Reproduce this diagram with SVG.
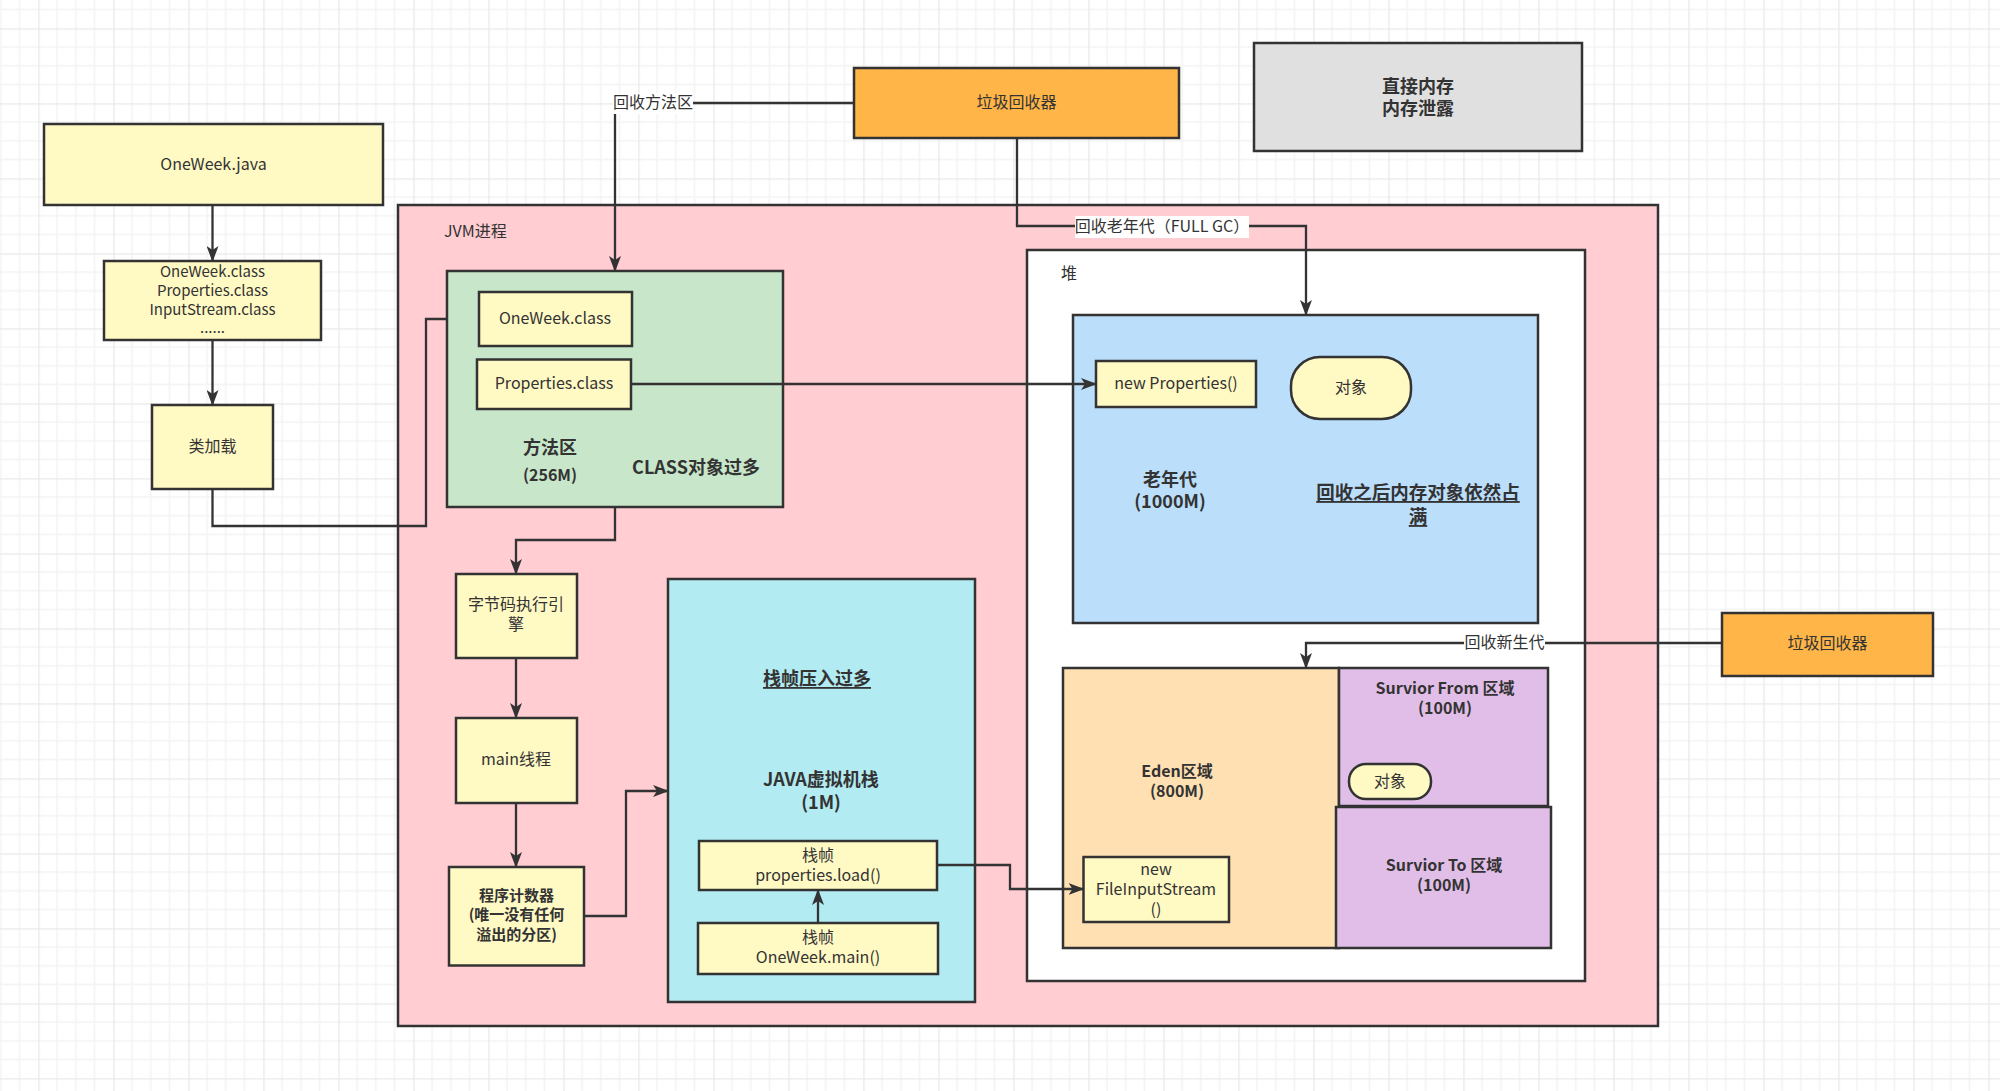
<svg xmlns="http://www.w3.org/2000/svg" width="2000" height="1091" viewBox="0 0 2000 1091">
<defs>
<pattern id="grid" patternUnits="userSpaceOnUse" x="38.3" y="28.3" width="75" height="75">
<rect width="75" height="75" fill="#ffffff"/>
<path d="M18.75,0V75M37.5,0V75M56.25,0V75M0,18.75H75M0,37.5H75M0,56.25H75" stroke="#f3f3f3" stroke-width="1.5" fill="none"/>
<path d="M0.5,0V75M0,0.5H75" stroke="#e9e9e9" stroke-width="1.6" fill="none"/>
</pattern>
<marker id="arr" markerUnits="userSpaceOnUse" markerWidth="16" markerHeight="12" viewBox="0 0 16 12" refX="15" refY="6" orient="auto">
<path d="M0,0 L16,6 L0,12 L4,6 z" fill="#333333"/>
</marker>
</defs>
<style>
text{font-family:"Noto Sans CJK SC","Noto Sans",sans-serif;fill:#333333;font-size:16px;text-anchor:middle;dominant-baseline:central;transform:translateY(-2px)}
.b{font-weight:bold}
.l{font-size:18px;font-weight:bold}
.s{font-size:15px}
.u{text-decoration:underline}
.box{stroke:#333333;stroke-width:2.5}
.y{fill:#fff9c4}
.gc{fill:#ffb547}
.edge{fill:none;stroke:#333333;stroke-width:2.3}
.lbl{fill:#ffffff}
</style>
<rect width="2000" height="1091" fill="url(#grid)"/>

<g id="oneweek-java"><rect class="box y" x="44" y="124" width="339" height="81"/><text x="213.5" y="164.5">OneWeek.java</text></g>
<g id="class-files"><rect class="box y" x="104" y="261" width="217" height="79"/>
<text class="s" x="212.5" y="272">OneWeek.class</text><text class="s" x="212.5" y="291">Properties.class</text><text class="s" x="212.5" y="310">InputStream.class</text><text class="s" x="212.5" y="328">......</text></g>
<g id="class-loader"><rect class="box y" x="152" y="405" width="121" height="84"/><text x="212.5" y="447">类加载</text></g>

<g id="jvm"><rect class="box" fill="#ffcdd2" x="398" y="205" width="1260" height="821"/><text x="444" y="231.5" style="text-anchor:start">JVM进程</text></g>

<g id="method-area"><rect class="box" fill="#c8e6c9" x="447" y="271" width="336" height="236"/>
<text class="l" x="550" y="448">方法区</text><text class="b" x="550" y="476">(256M)</text>
<text class="l" x="696" y="468">CLASS对象过多</text></g>
<g id="oneweek-class"><rect class="box y" x="479" y="292" width="153" height="54"/><text x="555" y="319">OneWeek.class</text></g>
<g id="properties-class"><rect class="box y" x="477" y="359.5" width="154" height="49.5"/><text x="554" y="384">Properties.class</text></g>

<g id="bytecode-engine"><rect class="box y" x="456" y="574" width="121" height="84"/><text x="516" y="605">字节码执行引</text><text x="516" y="625">擎</text></g>
<g id="main-thread"><rect class="box y" x="456" y="718" width="121" height="85"/><text x="516" y="760">main线程</text></g>
<g id="pc-register"><rect class="box y" x="449" y="867" width="135" height="98.5"/>
<text class="b s" x="516.5" y="896">程序计数器</text><text class="b s" x="516.5" y="915.5">(唯一没有任何</text><text class="b s" x="516.5" y="935">溢出的分区)</text></g>

<g id="java-stack"><rect class="box" fill="#b2ebf2" x="668" y="579" width="307" height="423"/>
<text class="l u" x="817" y="679">栈帧压入过多</text>
<text class="l" x="821" y="780">JAVA虚拟机栈</text><text class="l" x="821" y="803">(1M)</text></g>
<g id="frame-load"><rect class="box y" x="699" y="841" width="238" height="49"/><text x="818" y="856">栈帧</text><text x="818" y="876">properties.load()</text></g>
<g id="frame-main"><rect class="box y" x="698" y="923" width="240" height="51"/><text x="818" y="938">栈帧</text><text x="818" y="958">OneWeek.main()</text></g>

<g id="gc-top"><rect class="box gc" x="854" y="68" width="325" height="70"/><text x="1016.5" y="103">垃圾回收器</text></g>
<g id="direct-memory"><rect class="box" fill="#e0e0e0" x="1254" y="43" width="328" height="108"/><text class="l" x="1418" y="87">直接内存</text><text class="l" x="1418" y="109">内存泄露</text></g>

<g id="heap"><rect class="box" fill="#ffffff" x="1027" y="250" width="558" height="731"/><text x="1061" y="274" style="text-anchor:start">堆</text></g>
<g id="old-gen"><rect class="box" fill="#bbdefb" x="1073" y="315" width="465" height="308"/>
<text class="l" x="1170" y="480">老年代</text><text class="l" x="1170" y="502">(1000M)</text>
<text class="l u" x="1418" y="493" style="font-size:18.5px">回收之后内存对象依然占</text><text class="l u" x="1418" y="517" style="font-size:18.5px">满</text></g>
<g id="new-properties"><rect class="box y" x="1096" y="361" width="160" height="46"/><text x="1176" y="384">new Properties()</text></g>
<g id="old-object"><rect class="box y" x="1291" y="357" width="120" height="62" rx="29" ry="29"/><text x="1351" y="388">对象</text></g>

<g id="eden"><rect class="box" fill="#ffe0b2" x="1063" y="668" width="276" height="280"/>
<text class="b" x="1177" y="772">Eden区域</text><text class="b" x="1177" y="792">(800M)</text></g>
<g id="file-input-stream"><rect class="box y" x="1083.5" y="857" width="145.5" height="65"/>
<text x="1156" y="870">new</text><text x="1156" y="890">FileInputStream</text><text x="1156" y="910">()</text></g>
<g id="survivor-from"><rect class="box" fill="#e1bee7" x="1339" y="668" width="209" height="138"/>
<text class="b" x="1445" y="689">Survior From 区域</text><text class="b" x="1445" y="709">(100M)</text></g>
<g id="survivor-object"><rect class="box y" x="1349" y="764" width="82" height="35" rx="17" ry="17"/><text x="1390" y="782">对象</text></g>
<g id="survivor-to"><rect class="box" fill="#e1bee7" x="1336" y="807" width="215" height="141"/>
<text class="b" x="1444" y="866">Survior To 区域</text><text class="b" x="1444" y="886">(100M)</text></g>

<g id="gc-right"><rect class="box gc" x="1722" y="613" width="211" height="63"/><text x="1827.5" y="644">垃圾回收器</text></g>

<g id="connectors">
<path class="edge" d="M212.5,205V261" marker-end="url(#arr)"/>
<path class="edge" d="M212.5,340V405" marker-end="url(#arr)"/>
<path class="edge" d="M212.5,489V526H426V319H447"/>
<path class="edge" d="M854,103H615V271" marker-end="url(#arr)"/>
<rect class="lbl" x="613" y="93" width="80" height="21"/>
<text x="653" y="103">回收方法区</text>
<path class="edge" d="M1017,138V226H1306V315" marker-end="url(#arr)"/>
<rect class="lbl" x="1075" y="216" width="174" height="22"/>
<text x="1162" y="227">回收老年代（FULL GC）</text>
<path class="edge" d="M631,384H1096" marker-end="url(#arr)"/>
<path class="edge" d="M1722,643H1306V668" marker-end="url(#arr)"/>
<rect class="lbl" x="1464" y="633" width="81" height="21"/>
<text x="1504.5" y="643">回收新生代</text>
<path class="edge" d="M615,507V540H516V574" marker-end="url(#arr)"/>
<path class="edge" d="M516,658V718" marker-end="url(#arr)"/>
<path class="edge" d="M516,803V867" marker-end="url(#arr)"/>
<path class="edge" d="M584,916H626V791H668" marker-end="url(#arr)"/>
<path class="edge" d="M818,923V890" marker-end="url(#arr)"/>
<path class="edge" d="M937,865H1010V889H1083.5" marker-end="url(#arr)"/>
</g>
</svg>
